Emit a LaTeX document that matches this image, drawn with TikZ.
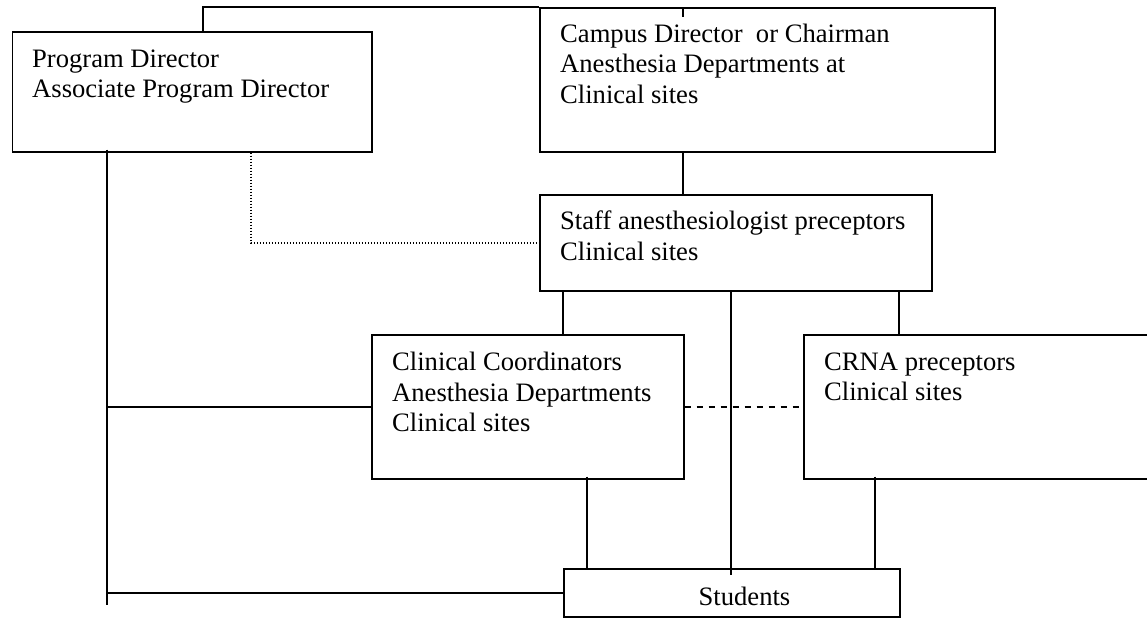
\documentclass[tikz,border=0pt]{standalone}
\usepackage{fontspec}
\setmainfont{Liberation Serif}
\usetikzlibrary{calc}
\tikzset{
  box/.style={draw, line width=1.6pt, rectangle, inner sep=0pt, anchor=north west},
  lbl/.style={anchor=base west, inner sep=0pt, align=left, font=\fontsize{26.6}{30.5}\selectfont},
  conn/.style={line width=1.6pt},
  dashconn/.style={line width=1.6pt, dash pattern=on 6pt off 6pt},
  dotconn/.style={line width=1.6pt, dash pattern=on 1.5pt off 1.5pt}
}
\begin{document}
\begin{tikzpicture}[x=1pt,y=-1pt]
\clip (0,0) rectangle (1147,621);
\fill[white] (0,0) rectangle (1147,621);
% boxes
\node[box, minimum width=359.3pt, minimum height=120pt] (pd) at (11.7,31) {};
\node[box, minimum width=455pt, minimum height=144pt] (cd) at (539,7) {};
\node[box, minimum width=392pt, minimum height=96pt] (sa) at (539,194) {};
\node[box, minimum width=312pt, minimum height=144pt] (cc) at (371,334) {};
\node[box, minimum width=360pt, minimum height=144pt] (cr) at (803,334) {};
\node[box, minimum width=336pt, minimum height=48pt] (st) at (563,568) {};
% texts (anchor = baseline of the last line)
\node[lbl] (pdt) at (32,97.7) {Program Director\\Associate Program Director};
\node[lbl] (cdt) at (560,103) {Campus Director~ or Chairman\\Anesthesia Departments at\\Clinical sites};
\node[lbl] (sat) at (560,260) {Staff anesthesiologist preceptors\\Clinical sites};
\node[lbl] (cct) at (392,431.7) {Clinical Coordinators\\Anesthesia Departments\\Clinical sites};
\node[lbl] (crt) at (824,400.7) {CRNA preceptors\\Clinical sites};
\node[lbl, anchor=base] (stt) at (744.5,605) {Students};
% connectors
\draw[conn] ([xshift=191.3pt]pd.north west) |- (cd.north west);
\draw[conn] ([xshift=144pt]cd.north west) -- ++(0,10);
\draw[conn] ([xshift=144pt]cd.south west) -- ([xshift=144pt]sa.north west);
\draw[dotconn] ([xshift=239.3pt]pd.south west) |- (sa.west);
\coordinate (lb) at ([xshift=95.3pt,yshift=3pt]pd.south west);
\draw[conn] (lb) -- ++(0,455);
\draw[conn] (cc.west) -- (cc.west -| lb);
\draw[conn] (st.west) -- (st.west -| lb);
\draw[conn] ([xshift=24pt]sa.south west) -- ([xshift=24pt]sa.south west |- cc.north);
\draw[conn] ([xshift=360pt]sa.south west) -- ([xshift=360pt]sa.south west |- cr.north);
\draw[conn] ([xshift=192pt]sa.south west) -- ([xshift=168pt,yshift=-7pt]st.north west);
\draw[conn] ([xshift=216pt,yshift=3pt]cc.south west) -- ([xshift=24pt]st.north west);
\draw[conn] ([xshift=72pt,yshift=3pt]cr.south west) -- ([xshift=312pt]st.north west);
\draw[dashconn] (cc.east) -- (cc.east -| cr.west);
\end{tikzpicture}
\end{document}
